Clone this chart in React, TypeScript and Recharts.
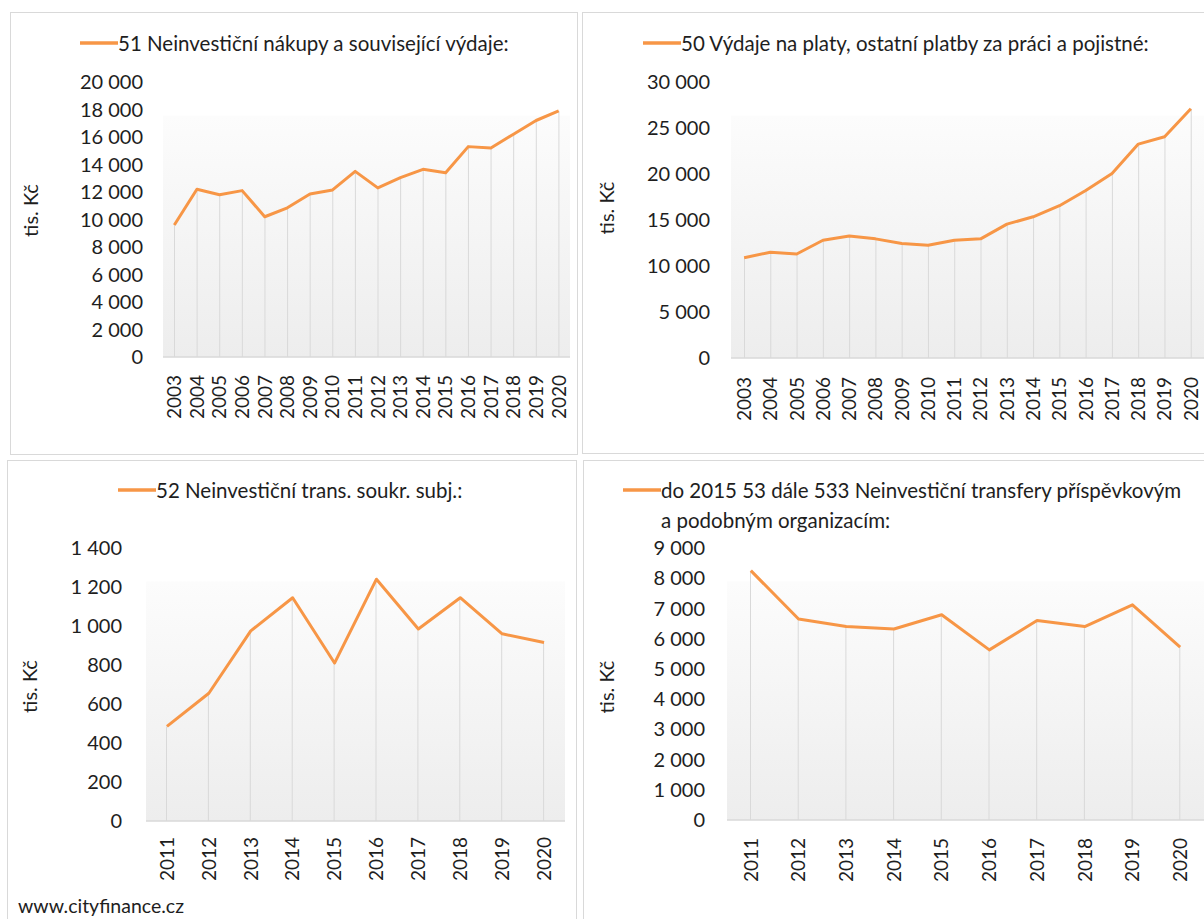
import React from 'react'
import { ComposedChart, Line, Bar, XAxis, YAxis, Legend, CartesianGrid } from 'recharts'

const years2003 = ['2003', '2004', '2005', '2006', '2007', '2008', '2009', '2010', '2011', '2012', '2013', '2014', '2015', '2016', '2017', '2018', '2019', '2020']
const years2011 = ['2011', '2012', '2013', '2014', '2015', '2016', '2017', '2018', '2019', '2020']

// tis. Kč
const nakupy51 = [9600, 12200, 11800, 12100, 10200, 10850, 11850, 12150, 13500, 12300, 13050, 13650, 13400, 15300, 15200, 16200, 17200, 17900]
const platy50 = [10900, 11500, 11300, 12800, 13250, 12950, 12450, 12250, 12800, 12950, 14550, 15350, 16550, 18200, 20050, 23250, 24050, 27100]
const transSoukr52 = [485, 655, 975, 1145, 810, 1240, 985, 1145, 960, 915]
const transPrisp53 = [8250, 6650, 6400, 6320, 6790, 5630, 6600, 6400, 7120, 5720]

const ticks51 = [0, 2000, 4000, 6000, 8000, 10000, 12000, 14000, 16000, 18000, 20000]
const ticks50 = [0, 5000, 10000, 15000, 20000, 25000, 30000]
const ticks52 = [0, 200, 400, 600, 800, 1000, 1200, 1400]
const ticks53 = [0, 1000, 2000, 3000, 4000, 5000, 6000, 7000, 8000, 9000]

const title51 = ['51 Neinvestiční nákupy a související výdaje:']
const title50 = ['50 Výdaje na platy, ostatní platby za práci a pojistné:']
const title52 = ['52 Neinvestiční trans. soukr. subj.:']
const title53 = ['do 2015 53 dále 533 Neinvestiční transfery příspěvkovým', 'a podobným organizacím:']

const unit = 'tis. Kč'
const source = 'www.cityfinance.cz'

const ORANGE = '#f79646'
const GREY = '#d9d9d9'
const TEXT = '#1e1e1e'
const FONT = 'Lato, "Open Sans", sans-serif'
const FS = 20
const FS_TITLE = 20.5
const FS_YEAR = 19

function fmt(n: number) {
  return String(n).replace(/\B(?=(\d{3})+(?!\d))/g, ' ')
}

function YearTick({ x, y, payload }: any) {
  return (
    <text x={x} y={y} transform={`rotate(-90, ${x}, ${y})`} textAnchor="end" dy="0.36em" fontSize={FS_YEAR} fill={TEXT}>
      {payload.value}
    </text>
  )
}

function TitleLegend({ lines, color }: { lines: string[]; color: string }) {
  return (
    <div style={{ display: 'flex', alignItems: 'flex-start', fontSize: FS_TITLE, lineHeight: '30px', color: TEXT, whiteSpace: 'nowrap' }}>
      <svg width={38} height={30} style={{ flex: 'none' }}>
        <line x1={0} x2={38} y1={15} y2={15} stroke={color} strokeWidth={3.5} />
      </svg>
      <div>
        {lines.map((l) => <div key={l}>{l}</div>)}
      </div>
    </div>
  )
}

type PanelProps = {
  id: string
  years: string[]
  values: number[]
  ticks: number[]
  title: string[]
  left: number
  top: number
  width: number
  height: number
  yWidth: number
  xHeight: number
  plotTop: number
  right: number
  yGap: number
  xGap: number
  legendLeft: number
  legendTop: number
  unitX: number
  unitDy: number
}

function Panel(p: PanelProps) {
  const data = p.years.map((year, i) => ({ year, value: p.values[i] }))
  return (
    <div style={{ position: 'absolute', left: p.left, top: p.top }}>
      <ComposedChart width={p.width} height={p.height} data={data} margin={{ top: p.plotTop, right: p.right, bottom: 0, left: 0 }}>
        <defs>
          <linearGradient id={`bg-${p.id}`} x1="0" y1="0" x2="0" y2="1">
            <stop offset="0" stopColor="#ffffff" />
            <stop offset="0.12" stopColor="#ffffff" />
            <stop offset="0.125" stopColor="#fcfcfc" />
            <stop offset="1" stopColor="#ededed" />
          </linearGradient>
        </defs>
        <CartesianGrid horizontal={false} vertical={false} fill={`url(#bg-${p.id})`} />
        <Legend
          layout="horizontal"
          verticalAlign="middle"
          align="center"
          wrapperStyle={{ left: p.legendLeft, top: p.legendTop, width: 620 }}
          content={() => <TitleLegend lines={p.title} color={ORANGE} />}
        />
        <XAxis
          dataKey="year"
          scale="band"
          height={p.xHeight}
          tick={<YearTick />}
          tickLine={false}
          tickSize={0}
          tickMargin={p.xGap}
          interval={0}
          axisLine={{ stroke: GREY, strokeWidth: 1.5 }}
        />
        <YAxis
          width={p.yWidth}
          domain={[p.ticks[0], p.ticks[p.ticks.length - 1]]}
          ticks={p.ticks}
          interval={0}
          tickFormatter={fmt}
          tick={{ fontSize: FS, fill: TEXT }}
          tickLine={false}
          tickSize={0}
          tickMargin={p.yGap}
          axisLine={false}
          label={(lp: any) => {
            const vb = lp.viewBox
            const x = vb.x + p.unitX
            const y = vb.y + vb.height / 2 + p.unitDy
            return (
              <text x={x} y={y} transform={`rotate(-90, ${x}, ${y})`} textAnchor="middle" fontSize={FS} fill={TEXT}>
                {unit}
              </text>
            )
          }}
        />
        <Bar dataKey="value" barSize={1} fill={GREY} legendType="none" isAnimationActive={false} />
        <Line
          type="linear"
          dataKey="value"
          name={p.title.join(' ')}
          stroke={ORANGE}
          strokeWidth={3}
          strokeLinejoin="round"
          dot={false}
          activeDot={false}
          isAnimationActive={false}
        />
      </ComposedChart>
    </div>
  )
}

const frame = (left: number, top: number, width: number, height: number): React.CSSProperties => ({
  position: 'absolute', left, top, width, height, border: `1px solid ${GREY}`, boxSizing: 'border-box',
})

export default function App() {
  return (
    <div style={{ position: 'absolute', left: 0, top: 0, width: 1204, height: 919, overflow: 'hidden', background: '#fff', fontFamily: FONT }}>
      <div style={frame(10, 12, 568, 443)} />
      <div style={frame(582, 12, 640, 442)} />
      <div style={frame(7, 460, 570, 480)} />
      <div style={frame(583, 460, 640, 480)} />

      <Panel id="p51" years={years2003} values={nakupy51} ticks={ticks51} title={title51}
        left={10} top={12} width={568} height={443} yWidth={153} xHeight={98} plotTop={70} right={8}
        yGap={20} xGap={18} legendLeft={70} legendTop={16} unitX={28} unitDy={-9} />
      <Panel id="p50" years={years2003} values={platy50} ticks={ticks50} title={title50}
        left={582} top={12} width={630} height={443} yWidth={149} xHeight={97} plotTop={70} right={8}
        yGap={21} xGap={19} legendLeft={61} legendTop={16} unitX={32} unitDy={-12} />
      <Panel id="p52" years={years2011} values={transSoukr52} ticks={ticks52} title={title52}
        left={7} top={460} width={570} height={459} yWidth={139} xHeight={98} plotTop={88} right={12}
        yGap={24} xGap={16} legendLeft={111} legendTop={15} unitX={30} unitDy={2} />
      <Panel id="p53" years={years2011} values={transPrisp53} ticks={ticks53} title={title53}
        left={583} top={460} width={629} height={459} yWidth={144} xHeight={99} plotTop={88} right={8}
        yGap={22} xGap={18} legendLeft={40} legendTop={15} unitX={31} unitDy={3} />

      <div style={{ position: 'absolute', left: 18, top: 895, fontSize: 19.5, color: TEXT, lineHeight: '22px' }}>{source}</div>
    </div>
  )
}
